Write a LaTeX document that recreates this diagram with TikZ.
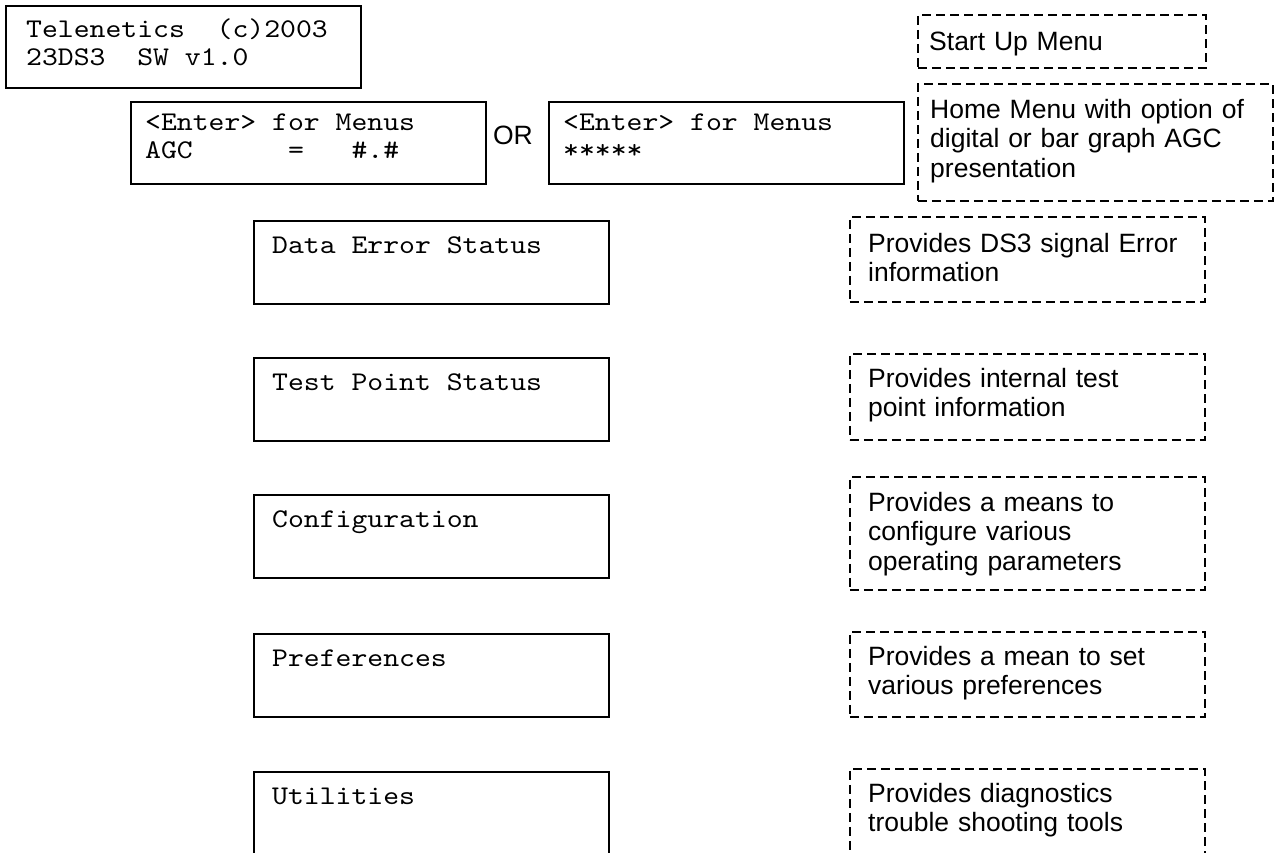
\documentclass[tikz,border=0pt]{standalone}
\usepackage{fontspec}
\setmainfont{Liberation Sans}
\newfontfamily\lcdfont{lmmono10-regular.otf}[FakeStretch=1.12]
\newcommand\lsp{\hspace*{15.876pt}}
\begin{document}
\begin{tikzpicture}[x=1pt,y=-1pt,
  lcd/.style={draw,line width=2pt,rectangle,inner sep=0pt,anchor=north west,minimum width=355pt,minimum height=82pt},
  note/.style={draw,line width=1.8pt,dash pattern=on 9pt off 5pt,rectangle,inner sep=0pt,anchor=north west,minimum width=355pt},
  mono/.style={anchor=base west,inner sep=0pt,font=\fontsize{27}{28.5}\selectfont\lcdfont,text width=340pt},
  sans/.style={anchor=base west,inner sep=0pt,font=\fontsize{26.5}{29.5}\selectfont,text width=340pt,align=left}]
\clip (0,0) rectangle (1280,852);
\fill[white] (0,0) rectangle (1280,852);

% start up and home screens
\node[lcd] (startlcd) at (5,5) {};
\node[mono] (startlcdtxt) at ([xshift=21pt,yshift=-32pt]startlcd.north west) {Telenetics\lsp\lsp(c)2003\\23DS3\lsp\lsp SW\lsp v1.0};
\node[lcd] (homea) at (130,101) {};
\node[mono] (homeatxt) at ([xshift=15pt,yshift=-29pt]homea.north west) {<Enter>\lsp for\lsp Menus\\AGC\lsp\lsp\lsp\lsp\lsp\lsp=\lsp\lsp\lsp\#.\#};
\node[lcd] (homeb) at (548,101) {};
\node[mono] (homebtxt) at ([xshift=15pt,yshift=-29pt]homeb.north west) {<Enter>\lsp for\lsp Menus\\******};
\node[font=\fontsize{26.5}{29.5}\selectfont,inner sep=0pt] (ortxt) at (513,135) {OR};

% menu screens
\node[lcd,minimum height=83pt] (mdata) at (253,220) {};
\node[mono] (mdatatxt) at ([xshift=19pt,yshift=-33pt]mdata.north west) {Data\lsp Error\lsp Status};
\node[lcd,minimum height=83pt] (mtest) at (253,357) {};
\node[mono] (mtesttxt) at ([xshift=19pt,yshift=-33pt]mtest.north west) {Test\lsp Point\lsp Status};
\node[lcd,minimum height=83pt] (mconf) at (253,494) {};
\node[mono] (mconftxt) at ([xshift=19pt,yshift=-33pt]mconf.north west) {Configuration};
\node[lcd,minimum height=83pt] (mpref) at (253,633) {};
\node[mono] (mpreftxt) at ([xshift=19pt,yshift=-33pt]mpref.north west) {Preferences};
\node[lcd,minimum height=83pt] (mutil) at (253,771) {};
\node[mono] (mutiltxt) at ([xshift=19pt,yshift=-33pt]mutil.north west) {Utilities};

% dashed notes
\node[note,minimum width=288pt,minimum height=53pt] (nstart) at (917,14) {};
\node[sans] (nstarttxt) at ([xshift=12pt,yshift=-36pt]nstart.north west) {Start Up Menu};
\node[note,minimum height=117pt] (nhome) at (917,83) {};
\node[sans] (nhometxt) at ([xshift=13pt,yshift=-35pt]nhome.north west) {Home Menu with option of\\digital or bar graph AGC\\presentation};
\node[note,minimum height=85pt] (ndata) at (849,216) {};
\node[sans] (ndatatxt) at ([xshift=19pt,yshift=-36pt]ndata.north west) {Provides DS3 signal Error\\information};
\node[note,minimum height=86pt] (ntest) at (849,353) {};
\node[sans] (ntesttxt) at ([xshift=19pt,yshift=-34pt]ntest.north west) {Provides internal test\\point information};
\node[note,minimum height=113pt] (nconf) at (849,476) {};
\node[sans] (nconftxt) at ([xshift=19pt,yshift=-35pt]nconf.north west) {Provides a means to\\configure various\\operating parameters};
\node[note,minimum height=85pt] (npref) at (849,631) {};
\node[sans] (npreftxt) at ([xshift=19pt,yshift=-34pt]npref.north west) {Provides a mean to set\\various preferences};
\node[note,minimum height=100pt] (nutil) at (849,768) {};
\node[sans] (nutiltxt) at ([xshift=19pt,yshift=-34pt]nutil.north west) {Provides diagnostics\\trouble shooting tools};
\end{tikzpicture}
\end{document}
